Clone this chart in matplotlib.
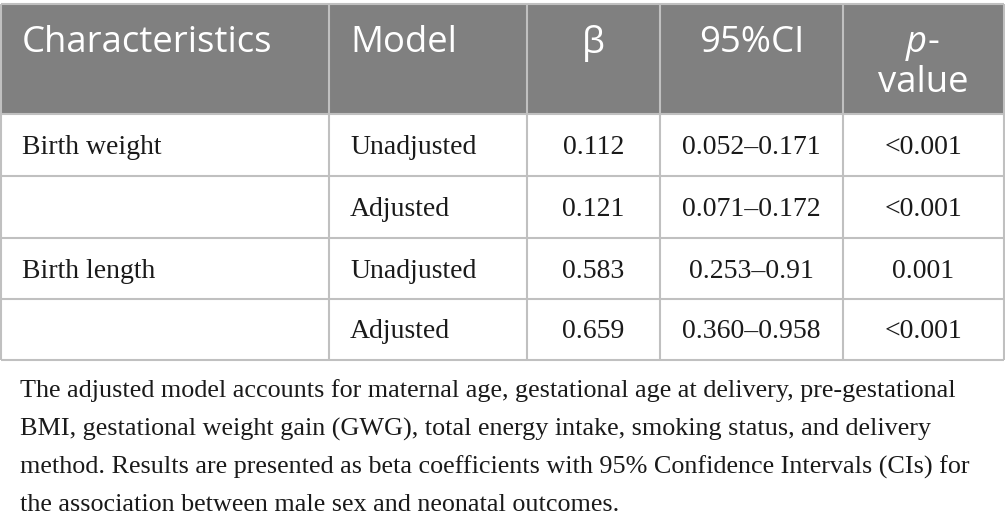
import matplotlib
matplotlib.use('Agg')
import matplotlib.pyplot as plt
from matplotlib.patches import Rectangle

# ── DATA ──────────────────────────────────────────────────────
headers = ["Characteristics", "Model", "β", "95%CI", "p-value"]
characteristics = ["Birth weight", "", "Birth length", ""]
models = ["Unadjusted", "Adjusted", "Unadjusted", "Adjusted"]
betas = ["0.112", "0.121", "0.583", "0.659"]
ci = ["0.052–0.171", "0.071–0.172", "0.253–0.91", "0.360–0.958"]
pvalues = ["<0.001", "<0.001", "0.001", "<0.001"]
caption = [
    "The adjusted model accounts for maternal age, gestational age at delivery, pre-gestational",
    "BMI, gestational weight gain (GWG), total energy intake, smoking status, and delivery",
    "method. Results are presented as beta coefficients with 95% Confidence Intervals (CIs) for",
    "the association between male sex and neonatal outcomes.",
]

# ── LAYOUT (pixels) ───────────────────────────────────────────
W, H = 1005, 525
col_x = [1, 329, 527, 660, 843, 1004]
head_top, head_bot = 4, 114
row_edges = [114, 176, 238, 299, 360]
HEAD_BG = '#808080'
GRID = '#c0c0c0'
TXT = '#1a1a1a'
SERIF = 'Liberation Serif'
SANS = 'Open Sans'
HDR_FS, BODY_FS, CAP_FS = 26.3, 20, 18.8

fig = plt.figure(figsize=(W / 100, H / 100), dpi=100)
ax = fig.add_axes([0, 0, 1, 1])
ax.set_xlim(0, W)
ax.set_ylim(H, 0)
ax.axis('off')

# header band
ax.add_patch(Rectangle((col_x[0], head_top), col_x[-1] - col_x[0],
                       head_bot - head_top, facecolor=HEAD_BG, edgecolor='none'))

# grid lines
for y in [head_top] + row_edges:
    ax.plot([col_x[0], col_x[-1]], [y, y], color=GRID, lw=1.5, solid_capstyle='butt')
for x in col_x:
    ax.plot([x, x], [head_top, row_edges[-1]], color=GRID, lw=1.5, solid_capstyle='butt')

# header text
hdr_y = 43
pad = 21
for i, h in enumerate(headers):
    left, right = col_x[i], col_x[i + 1]
    if i < 2:
        ax.text(left + pad, hdr_y, h, color='white', fontsize=HDR_FS, family=SANS,
                ha='left', va='center')
    elif h == "p-value":
        cx = (left + right) / 2
        ax.text(cx + 3, hdr_y, "p", color='white', fontsize=HDR_FS, family=SANS,
                style='italic', ha='right', va='center')
        ax.text(cx + 4, hdr_y, "-", color='white', fontsize=HDR_FS, family=SANS,
                ha='left', va='center')
        ax.text(cx, hdr_y + 40, "value", color='white', fontsize=HDR_FS, family=SANS,
                ha='center', va='center')
    else:
        ax.text((left + right) / 2, hdr_y, h, color='white', fontsize=HDR_FS,
                family=[SANS, 'DejaVu Sans'], ha='center', va='center')

# body rows
columns = [characteristics, models, betas, ci, pvalues]
for r in range(len(models)):
    cy = (row_edges[r] + row_edges[r + 1]) / 2 + 2.5
    for c, col in enumerate(columns):
        left, right = col_x[c], col_x[c + 1]
        if c < 2:
            ax.text(left + pad, cy, col[r], fontsize=BODY_FS, family=SERIF,
                    ha='left', va='center', color=TXT)
        else:
            ax.text((left + right) / 2, cy, col[r], fontsize=BODY_FS, family=SERIF,
                    ha='center', va='center', color=TXT)

# caption
for k, line in enumerate(caption):
    ax.text(20, 391 + k * 38, line, fontsize=CAP_FS, family=SERIF,
            ha='left', va='center', color=TXT)

plt.savefig('out.png', dpi=100)
